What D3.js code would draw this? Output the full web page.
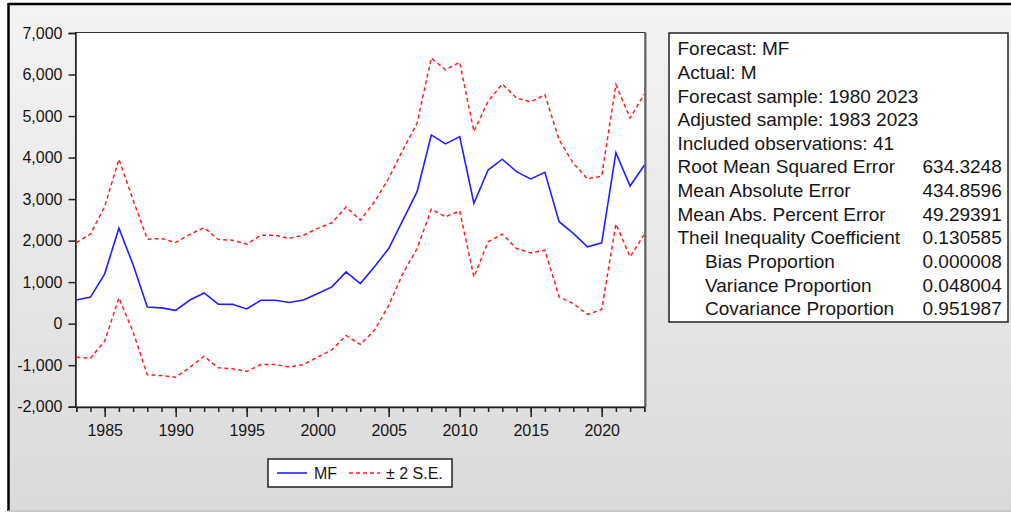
<!DOCTYPE html>
<html>
<head>
<meta charset="utf-8">
<script src="https://cdn.jsdelivr.net/npm/d3@7"></script>
<style>
  html, body { margin: 0; padding: 0; background: #ffffff; }
  svg { display: block; }
  text { font-family: "Liberation Sans", Arial, sans-serif; fill: #161616; }
</style>
</head>
<body>
<svg id="chart" width="1011" height="513"></svg>
<script>
// ---------------- data ----------------
const years = d3.range(1983, 2024);
const mfValues = [570, 640, 1200, 2300, 1420, 400, 380, 320, 570, 740,
  470, 465, 355, 565, 565, 510, 570, 725, 885, 1245,
  965, 1370, 1810, 2495, 3180, 4545, 4330, 4505, 2900, 3700,
  3960, 3660, 3485, 3645, 2455, 2175, 1850, 1945, 4120, 3315, 3815];
const upperValues = [1950, 2160, 2820, 3960, 2980, 2035, 2050, 1955, 2150, 2310,
  2030, 2010, 1915, 2130, 2130, 2055, 2130, 2295, 2430, 2810,
  2495, 2935, 3500, 4185, 4830, 6400, 6115, 6295, 4630, 5355,
  5770, 5435, 5340, 5515, 4430, 3865, 3485, 3555, 5755, 4950, 5530];
const lowerValues = [-810, -830, -420, 620, -200, -1230, -1250, -1290, -1050, -785,
  -1065, -1085, -1150, -985, -985, -1045, -985, -805, -630, -285,
  -500, -160, 440, 1210, 1810, 2755, 2575, 2715, 1125, 1970,
  2155, 1810, 1705, 1770, 645, 485, 225, 340, 2400, 1610, 2150];
const yTicks = [-2000, -1000, 0, 1000, 2000, 3000, 4000, 5000, 6000, 7000];
const xMajorTicks = [1985, 1990, 1995, 2000, 2005, 2010, 2015, 2020];
const legendLabels = ["MF", "\u00B1 2 S.E."];
const statLabels = ["Forecast: MF", "Actual: M", "Forecast sample: 1980 2023",
  "Adjusted sample: 1983 2023", "Included observations: 41",
  "Root Mean Squared Error", "Mean Absolute Error", "Mean Abs. Percent Error",
  "Theil Inequality Coefficient", "Bias Proportion", "Variance Proportion",
  "Covariance Proportion"];
const statValues = ["", "", "", "", "", "634.3248", "434.8596", "49.29391",
  "0.130585", "0.000008", "0.048004", "0.951987"];
const statIndent = [0, 0, 0, 0, 0, 0, 0, 0, 0, 1, 1, 1];

// ---------------- layout ----------------
const svg = d3.select("#chart");
const W = 1011, H = 513;
const plot = {left: 75.5, right: 645, top: 32.5, bottom: 407};

const defs = svg.append("defs");
const grad = defs.append("linearGradient").attr("id", "bg")
  .attr("x1", 0).attr("y1", 0).attr("x2", 0).attr("y2", 1);
grad.append("stop").attr("offset", "0%").attr("stop-color", "#f4f4f4");
grad.append("stop").attr("offset", "100%").attr("stop-color", "#dadada");

// window background + frame
svg.append("rect").attr("x", 9).attr("y", 5).attr("width", W - 9).attr("height", 505)
  .attr("fill", "url(#bg)");
svg.append("line").attr("x1", 8).attr("x2", W).attr("y1", 4).attr("y2", 4)
  .attr("stroke", "#000").attr("stroke-width", 2.5);
svg.append("line").attr("x1", 8.5).attr("x2", 8.5).attr("y1", 3).attr("y2", 511)
  .attr("stroke", "#000").attr("stroke-width", 2.5);
svg.append("line").attr("x1", 8).attr("x2", W).attr("y1", 511).attr("y2", 511)
  .attr("stroke", "#b4b4b4").attr("stroke-width", 1.5);

// scales
const x = d3.scaleLinear().domain([1983, 2023]).range([76.3, 644.3]);
const y = d3.scaleLinear().domain([-2000, 7000]).range([406.7, 33]);

// plot area
svg.append("rect").attr("x", plot.left).attr("y", plot.top)
  .attr("width", plot.right - plot.left).attr("height", plot.bottom - plot.top)
  .attr("fill", "#ffffff").attr("stroke", "#333").attr("stroke-width", 1);
svg.append("line").attr("x1", plot.right + 0.5).attr("x2", plot.right + 0.5)
  .attr("y1", plot.top).attr("y2", plot.bottom)
  .attr("stroke", "#666").attr("stroke-width", 2);

// y axis
const fmt = v => d3.format(",")(v).replace("\u2212", "-");
const yAxis = svg.append("g").attr("transform", `translate(${plot.left},0)`)
  .call(d3.axisLeft(y).tickValues(yTicks).tickSize(7).tickPadding(6).tickFormat(fmt));
yAxis.select(".domain").attr("stroke", "#222").attr("stroke-width", 1.5);
yAxis.selectAll(".tick line").attr("stroke", "#222").attr("stroke-width", 1.5);
yAxis.selectAll("text").attr("font-size", 16).attr("font-family", "Liberation Sans, Arial, sans-serif")
  .attr("fill", "#161616");

// x axis minor
const xMinor = svg.append("g").attr("transform", `translate(0,${plot.bottom})`)
  .call(d3.axisBottom(x).tickValues(years).tickSize(5).tickFormat(""));
xMinor.select(".domain").attr("stroke", "#222").attr("stroke-width", 1.5);
xMinor.selectAll(".tick line").attr("stroke", "#222").attr("stroke-width", 1.5);
// x axis major
const xMajor = svg.append("g").attr("transform", `translate(0,${plot.bottom})`)
  .call(d3.axisBottom(x).tickValues(xMajorTicks).tickSize(10).tickPadding(8).tickFormat(d3.format("d")));
xMajor.select(".domain").remove();
xMajor.selectAll(".tick line").attr("stroke", "#222").attr("stroke-width", 1.5);
xMajor.selectAll("text").attr("font-size", 16).attr("font-family", "Liberation Sans, Arial, sans-serif")
  .attr("fill", "#161616");

// lines
const mkLine = vals => d3.line().x((d, i) => x(years[i])).y(d => y(d))(vals);
const clip = defs.append("clipPath").attr("id", "clip").append("rect")
  .attr("x", plot.left).attr("y", plot.top).attr("width", plot.right - plot.left).attr("height", plot.bottom - plot.top);
const lines = svg.append("g").attr("clip-path", "url(#clip)");
lines.append("path").attr("d", mkLine(upperValues)).attr("fill", "none")
  .attr("stroke", "#ff2020").attr("stroke-width", 1.5).attr("stroke-dasharray", "4,3");
lines.append("path").attr("d", mkLine(lowerValues)).attr("fill", "none")
  .attr("stroke", "#ff2020").attr("stroke-width", 1.5).attr("stroke-dasharray", "4,3");
lines.append("path").attr("d", mkLine(mfValues)).attr("fill", "none")
  .attr("stroke", "#2020ff").attr("stroke-width", 1.6);

// legend
const lg = svg.append("g");
lg.append("rect").attr("x", 268).attr("y", 459).attr("width", 184).attr("height", 28)
  .attr("fill", "#fff").attr("stroke", "#222").attr("stroke-width", 1.5);
lg.append("line").attr("x1", 277).attr("x2", 307).attr("y1", 473).attr("y2", 473)
  .attr("stroke", "#2020ff").attr("stroke-width", 1.6);
lg.append("text").attr("x", 314).attr("y", 479).attr("font-size", 16).text(legendLabels[0]);
lg.append("line").attr("x1", 349).attr("x2", 380).attr("y1", 473).attr("y2", 473)
  .attr("stroke", "#ff2020").attr("stroke-width", 1.5).attr("stroke-dasharray", "4,3");
lg.append("text").attr("x", 386).attr("y", 479).attr("font-size", 16).text(legendLabels[1]);

// stats box
const sb = svg.append("g");
sb.append("rect").attr("x", 669).attr("y", 33).attr("width", 339).attr("height", 289)
  .attr("fill", "#fff").attr("stroke", "#222").attr("stroke-width", 1.5);
const rowY = d3.scaleLinear().domain([0, statLabels.length - 1]).range([48.3, 308.3]);
statLabels.forEach((lab, i) => {
  sb.append("text").attr("x", statIndent[i] ? 705 : 677.5).attr("y", rowY(i) + 7)
    .attr("font-size", 19).text(lab);
  if (statValues[i]) {
    sb.append("text").attr("x", 922.5).attr("y", rowY(i) + 7)
      .attr("font-size", 19).text(statValues[i]);
  }
});
</script>
</body>
</html>
